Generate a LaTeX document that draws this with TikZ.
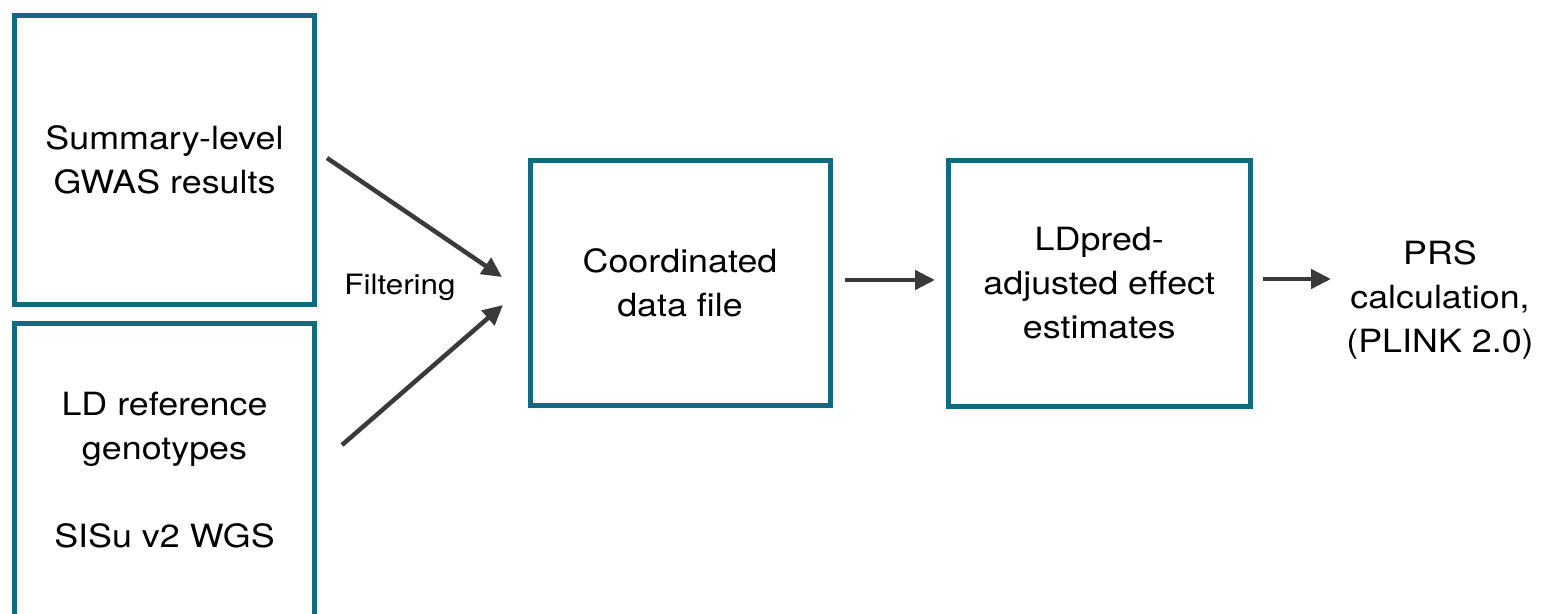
\documentclass[tikz,border=0pt]{standalone}
\usepackage{fontspec}
\setmainfont{TeX Gyre Heros}[FakeStretch=1.12]
\usetikzlibrary{arrows.meta}
\definecolor{tealbox}{RGB}{20,105,130}
\definecolor{arrgray}{RGB}{58,58,58}
\begin{document}
\begin{tikzpicture}[x=1pt,y=-1pt,
  box/.style={draw=tealbox,line width=5pt,outer sep=0pt,align=center,
    font=\fontsize{32}{44}\selectfont},
  txt/.style={align=center,font=\fontsize{32}{44}\selectfont},
  arr/.style={draw=arrgray,line width=4.5pt,-{Triangle[length=20pt,width=19pt]}}]
\clip (0,0) rectangle (1549,613);
\useasboundingbox (0,0) rectangle (1549,613);
\node[box,minimum width=300pt,minimum height=289.5pt] (gwas) at (164.5,159.75) {Summary-level\\GWAS results};
\node[box,minimum width=300pt,minimum height=293pt] (ld) at (164.5,470) {LD reference\\genotypes\\[44pt]SISu v2 WGS};
\node[box,minimum width=300pt,minimum height=245pt] (coord) at (680,283.25) {Coordinated\\data file};
\node[box,minimum width=301.5pt,minimum height=246pt] (ldpred) at (1099.25,283.5) {LDpred-\\adjusted effect\\estimates};
\node[txt] (prs) at (1440,300) {PRS\\calculation,\\(PLINK 2.0)};
\node[font=\fontsize{28}{34}\selectfont] (filt) at (400,287) {Filtering};
\coordinate (prsin) at (1331,279);
\draw[arr] ([xshift=12.5pt,yshift=1.75pt]gwas.east) -- ([xshift=-28pt,yshift=6.25pt]coord.west);
\draw[arr] ([xshift=27.5pt,yshift=25pt]ld.east) -- ([xshift=-27pt,yshift=-21.75pt]coord.west);
\draw[arr] ([xshift=15pt,yshift=3.25pt]coord.east) -- ([xshift=-13.5pt,yshift=3.5pt]ldpred.west);
\draw[arr] ([xshift=13pt,yshift=4.5pt]ldpred.east) -- (prsin);
\end{tikzpicture}
\end{document}
